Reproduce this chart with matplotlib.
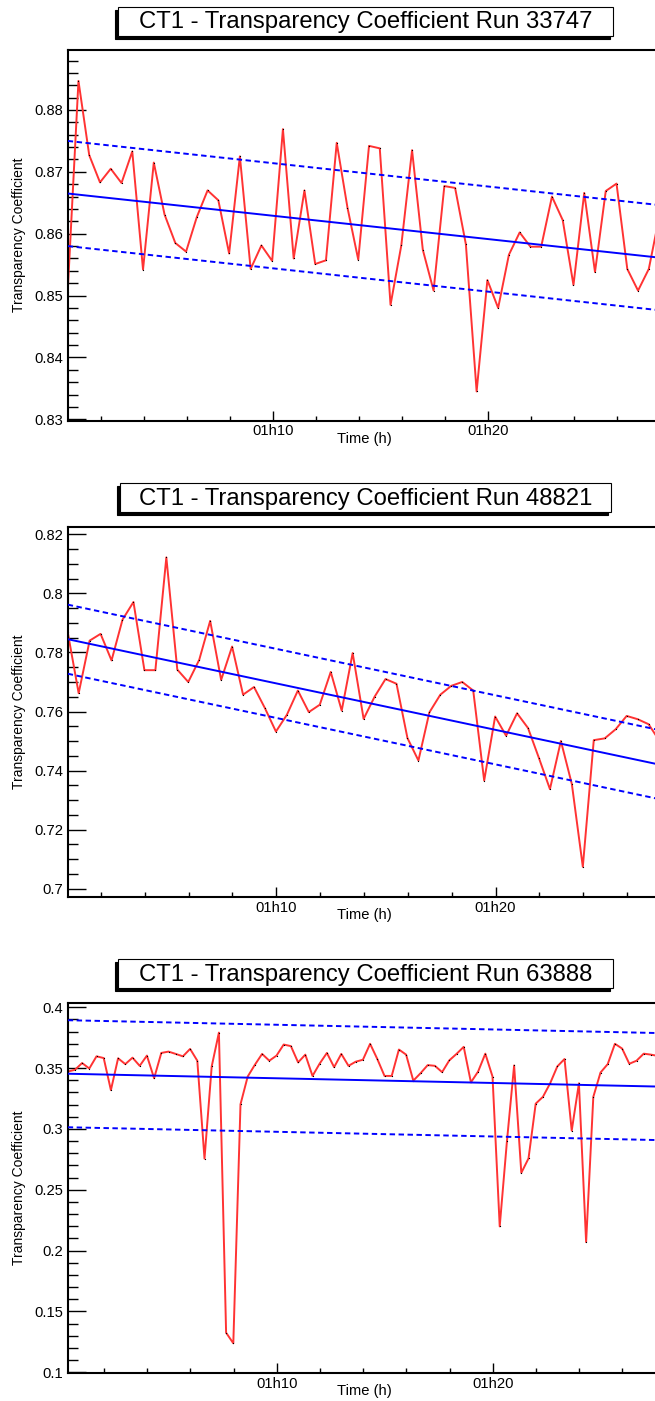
import numpy as np
import pandas as pd
import matplotlib
matplotlib.use("Agg")
import matplotlib.pyplot as plt
import matplotlib.dates as mdates
from matplotlib.patches import Rectangle
from matplotlib.ticker import MultipleLocator, FormatStrFormatter

plt.rcParams['font.family'] = ['Liberation Sans', 'DejaVu Sans']

W, H = 655, 1401

# run 33747, one measurement every 30 s
run1 = "33747"
start1 = "2000-01-01 01:00:28"
step1 = "30s"
tc1 = [0.8506, 0.8847, 0.8727, 0.8683, 0.8705, 0.8682, 0.8733, 0.8542, 0.8715, 0.8631,
       0.8585, 0.8571, 0.8627, 0.8670, 0.8654, 0.8568, 0.8725, 0.8543, 0.8581, 0.8556,
       0.8769, 0.8560, 0.8670, 0.8551, 0.8557, 0.8747, 0.8642, 0.8558, 0.8742, 0.8738,
       0.8485, 0.8581, 0.8735, 0.8574, 0.8508, 0.8677, 0.8674, 0.8583, 0.8345, 0.8525,
       0.8480, 0.8566, 0.8602, 0.8579, 0.8579, 0.8660, 0.8622, 0.8517, 0.8666, 0.8538,
       0.8669, 0.8681, 0.8543, 0.8508, 0.8543, 0.8630]
fit1 = [0.8665, 0.8561]     # linear fit at both ends of the time axis
band1 = 0.0085

# run 48821, one measurement every 30 s
run2 = "48821"
start2 = "2000-01-01 01:00:29"
step2 = "30s"
tc2 = [0.7869, 0.7662, 0.7840, 0.7863, 0.7773, 0.7911, 0.7971, 0.7740, 0.7740, 0.8122,
       0.7742, 0.7700, 0.7775, 0.7907, 0.7707, 0.7820, 0.7657, 0.7683, 0.7611, 0.7532,
       0.7589, 0.7671, 0.7598, 0.7623, 0.7734, 0.7603, 0.7798, 0.7575, 0.7650, 0.7710,
       0.7694, 0.7510, 0.7434, 0.7597, 0.7657, 0.7687, 0.7700, 0.7671, 0.7366, 0.7583,
       0.7518, 0.7594, 0.7544, 0.7442, 0.7337, 0.7500, 0.7354, 0.7074, 0.7503, 0.7509,
       0.7540, 0.7585, 0.7574, 0.7557, 0.7500]
fit2 = [0.7845, 0.7419]
band2 = 0.0117

# run 63888, one measurement every 20 s
run3 = "63888"
start3 = "2000-01-01 01:00:19"
step3 = "20s"
tc3 = [0.3472, 0.3486, 0.3542, 0.3497, 0.3597, 0.3583, 0.3319, 0.3581, 0.3533, 0.3586,
       0.3519, 0.3603, 0.3417, 0.3625, 0.3636, 0.3617, 0.3597, 0.3658, 0.3561, 0.2756,
       0.3514, 0.3792, 0.1325, 0.1238, 0.3203, 0.3431, 0.3528, 0.3617, 0.3561, 0.3603,
       0.3694, 0.3681, 0.3547, 0.3611, 0.3436, 0.3538, 0.3625, 0.3508, 0.3617, 0.3519,
       0.3553, 0.3569, 0.3700, 0.3575, 0.3436, 0.3436, 0.3653, 0.3611, 0.3397, 0.3458,
       0.3525, 0.3519, 0.3467, 0.3564, 0.3617, 0.3675, 0.3383, 0.3472, 0.3619, 0.3431,
       0.2199, 0.2897, 0.3522, 0.2639, 0.2758, 0.3208, 0.3264, 0.3375, 0.3514, 0.3575,
       0.2986, 0.3375, 0.2070, 0.3264, 0.3464, 0.3533, 0.3700, 0.3661, 0.3536, 0.3561,
       0.3619, 0.3611, 0.3600]
fit3 = [0.3454, 0.3348]
band3 = 0.044

panels = [
    dict(run=run1, start=start1, step=step1, tc=tc1, fit=fit1, band=band1,
         top=50.0, stop="2000-01-01T01:28:02", ylim=(0.8298, 0.8897),
         major=0.01, minor=0.002, box=(118.0, 6.7, 612.7, 35.5)),
    dict(run=run2, start=start2, step=step2, tc=tc2, fit=fit2, band=band2,
         top=526.7, stop="2000-01-01T01:27:33", ylim=(0.6971, 0.8226),
         major=0.02, minor=0.005, box=(119.5, 483.3, 611.0, 512.0)),
    dict(run=run3, start=start3, step=step3, tc=tc3, fit=fit3, band=band3,
         top=1002.7, stop="2000-01-01T01:27:47", ylim=(0.0992, 0.4038),
         major=0.05, minor=0.01, box=(118.0, 959.3, 612.7, 988.0)),
]

RED = '#ff3333'
BLUE = '#0000ff'
LEFT, RIGHT, HGT = 67.7, 661.0, 370.5

fig = plt.figure(figsize=(W / 100, H / 100), dpi=100)


def fx(x):
    return x / W


def fy(y):
    return 1 - y / H


for p in panels:
    t = pd.date_range(p['start'], periods=len(p['tc']), freq=p['step']).to_numpy()
    ax = fig.add_axes([fx(LEFT), fy(p['top'] + HGT), (RIGHT - LEFT) / W, HGT / H])
    ends = np.array([t[0], np.datetime64(p['stop'])])

    ax.plot(t, p['tc'], color=RED, lw=1.4, marker='s', ms=0.8, mew=0, mfc='k',
            zorder=2)
    ax.plot(ends, p['fit'], color=BLUE, lw=1.4, zorder=3)
    for s in (1, -1):
        ax.plot(ends, np.array(p['fit']) + s * p['band'], color=BLUE, lw=1.4,
                ls=(0, (2.8, 1.8)), zorder=3)

    ax.set_xlim(ends[0], ends[1])
    ax.set_ylim(*p['ylim'])

    ax.xaxis.set_major_locator(mdates.MinuteLocator(byminute=range(0, 60, 10)))
    ax.xaxis.set_minor_locator(mdates.MinuteLocator(byminute=range(0, 60, 2)))
    ax.xaxis.set_major_formatter(mdates.DateFormatter('%Hh%M'))
    ax.yaxis.set_major_locator(MultipleLocator(p['major']))
    ax.yaxis.set_minor_locator(MultipleLocator(p['minor']))
    ax.yaxis.set_major_formatter(FormatStrFormatter('%g'))

    ax.tick_params(axis='both', which='both', direction='in', colors='k',
                   labelsize=10.6, width=1.0, top=False, right=False)
    ax.tick_params(axis='x', which='major', length=7.2, pad=2.5)
    ax.tick_params(axis='x', which='minor', length=3.6)
    ax.tick_params(axis='y', which='major', length=13, pad=3.2)
    ax.tick_params(axis='y', which='minor', length=7.2)
    for side in ('top', 'left', 'bottom'):
        ax.spines[side].set_linewidth(1.5)
    ax.spines['right'].set_visible(False)

    ax.annotate('Time (h)', xy=(0.5, 0), xycoords='axes fraction', xytext=(0, -18),
                textcoords='offset pixels', ha='center', va='center', fontsize=10.6)
    ax.annotate('Transparency Coefficient', xy=(0, 0.5), xycoords='axes fraction',
                xytext=(-49, 0), textcoords='offset pixels', ha='center', va='center',
                rotation=90, fontsize=10)

    # title pave with its shadow
    x0, y0, x1, y1 = p['box']
    fig.add_artist(Rectangle((fx(x0 - 3), fy(y1 + 3)), (x1 - x0) / W, (y1 - y0) / H,
                             transform=fig.transFigure, facecolor='k', edgecolor='k',
                             lw=0.8))
    fig.add_artist(Rectangle((fx(x0), fy(y1)), (x1 - x0) / W, (y1 - y0) / H,
                             transform=fig.transFigure, facecolor='white', edgecolor='k',
                             lw=0.8))
    fig.text(fx((x0 + x1) / 2), fy(y0 + 21.6),
             'CT1 - Transparency Coefficient Run ' + p['run'],
             ha='center', va='baseline', fontsize=17.2)

fig.savefig('out.png', dpi=100)
